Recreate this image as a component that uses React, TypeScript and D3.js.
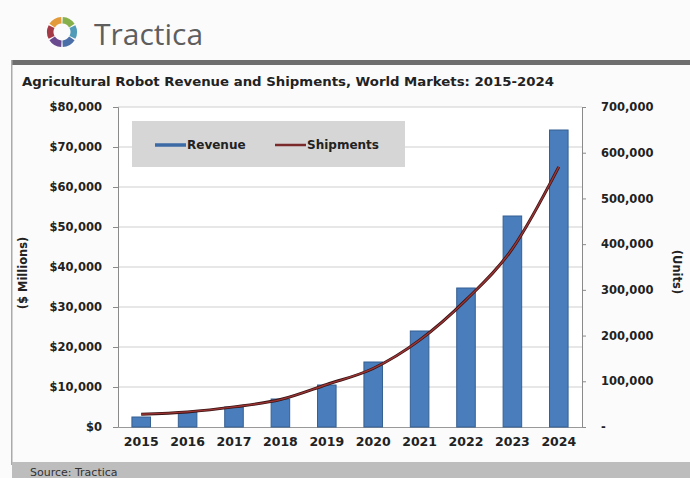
import { useEffect, useRef } from 'react';
import { arc, axisBottom, axisLeft, axisRight, curveMonotoneX, format, line, scaleBand, scaleLinear, select } from 'd3';

const years = ['2015', '2016', '2017', '2018', '2019', '2020', '2021', '2022', '2023', '2024'];
const revenue = [2500, 3750, 5000, 7000, 10500, 16250, 24000, 34750, 52750, 74250];
const shipments = [28000, 33000, 44000, 60000, 93000, 128000, 190000, 278000, 390000, 569000];
const revenueTicks = [0, 10000, 20000, 30000, 40000, 50000, 60000, 70000, 80000];
const unitTicks = [0, 100000, 200000, 300000, 400000, 500000, 600000, 700000];
const logoColors = ['#86b04a', '#4f9bb8', '#4a6fa8', '#6a4a8e', '#a33a46', '#e39a3a'];

const W = 690;
const H = 478;
const plot = { left: 118, right: 582, top: 107, bottom: 427 };
const font = '"DejaVu Sans", Verdana, sans-serif';

export default function App() {
  const svgRef = useRef<SVGSVGElement | null>(null);

  useEffect(() => {
    const svgEl = svgRef.current;
    if (!svgEl) return;
    const svg = select(svgEl);
    svg.selectAll('*').remove();

    // header
    svg.append('rect').attr('width', W).attr('height', H).attr('fill', '#fbfbfb');
    svg.append('rect').attr('x', 12).attr('y', 60).attr('width', W - 12).attr('height', 5).attr('fill', '#6e6e6e');
    svg.append('rect').attr('x', 11).attr('y', 60).attr('width', 1.5).attr('height', 405).attr('fill', '#aaa');

    const logo = svg.append('g').attr('transform', 'translate(62,32)');
    const seg = arc<number>()
      .innerRadius(8.5)
      .outerRadius(15)
      .startAngle((d) => (d * Math.PI * 2) / logoColors.length + 0.05)
      .endAngle((d) => ((d + 1) * Math.PI * 2) / logoColors.length - 0.05);
    logo
      .selectAll('path')
      .data(logoColors.map((_, i) => i))
      .join('path')
      .attr('d', seg)
      .attr('fill', (i) => logoColors[i]);

    svg.append('text')
      .attr('x', 94).attr('y', 45)
      .attr('font-family', '"Open Sans", "DejaVu Sans", sans-serif')
      .attr('font-size', 30)
      .attr('fill', '#5e5e5e')
      .text('Tractica');

    svg.append('text')
      .attr('x', 22).attr('y', 86)
      .attr('font-family', font)
      .attr('font-weight', 'bold')
      .attr('font-size', 12)
      .attr('fill', '#222')
      .attr('textLength', 532)
      .attr('lengthAdjust', 'spacingAndGlyphs')
      .text('Agricultural Robot Revenue and Shipments, World Markets: 2015-2024');

    // scales
    const x = scaleBand<string>().domain(years).range([plot.left, plot.right]).paddingInner(0.6).paddingOuter(0.3);
    const yL = scaleLinear().domain([0, 80000]).range([plot.bottom, plot.top]);
    const yR = scaleLinear().domain([0, 700000]).range([plot.bottom, plot.top]);

    svg.append('rect')
      .attr('x', plot.left).attr('y', plot.top)
      .attr('width', plot.right - plot.left).attr('height', plot.bottom - plot.top)
      .attr('fill', '#ffffff');

    svg.append('g')
      .selectAll('line')
      .data(revenueTicks.slice(1))
      .join('line')
      .attr('x1', plot.left).attr('x2', plot.right)
      .attr('y1', (d) => yL(d)).attr('y2', (d) => yL(d))
      .attr('stroke', '#cfcfcf').attr('stroke-width', 1);

    const styleAxis = (g: any) => {
      g.select('.domain').attr('stroke', '#8a8a8a');
      g.selectAll('.tick line').attr('stroke', '#8a8a8a');
      g.selectAll('.tick text')
        .attr('font-family', font)
        .attr('font-weight', 'bold')
        .attr('font-size', 11.5)
        .attr('fill', '#222');
    };

    svg.append('g')
      .attr('transform', `translate(${plot.left},0)`)
      .call(axisLeft(yL).tickValues(revenueTicks).tickSize(5).tickPadding(11).tickFormat((d) => `$${format(',')(d as number)}`))
      .call(styleAxis);

    svg.append('g')
      .attr('transform', `translate(${plot.right},0)`)
      .call(axisRight(yR).tickValues(unitTicks).tickSize(4).tickPadding(15).tickFormat((d) => (d === 0 ? '-' : format(',')(d as number))))
      .call(styleAxis);

    svg.append('g')
      .attr('transform', `translate(0,${plot.bottom})`)
      .call(axisBottom(x).tickSize(0).tickPadding(10))
      .call(styleAxis)
      .call((g: any) => {
        g.select('.domain').attr('stroke', '#999');
        g.selectAll('.tick text').attr('font-size', 12.5);
      });

    // bars
    svg.append('g')
      .selectAll('rect')
      .data(years)
      .join('rect')
      .attr('x', (d) => x(d) ?? 0)
      .attr('y', (_, i) => yL(revenue[i]))
      .attr('width', x.bandwidth())
      .attr('height', (_, i) => plot.bottom - yL(revenue[i]))
      .attr('fill', '#4a7dbb')
      .attr('stroke', '#355f91')
      .attr('stroke-width', 1);

    // shipments line
    const ln = line<number>()
      .x((_, i) => (x(years[i]) ?? 0) + x.bandwidth() / 2)
      .y((d) => yR(d))
      .curve(curveMonotoneX);
    svg.append('path').attr('d', ln(shipments)).attr('fill', 'none').attr('stroke', '#3a1414').attr('stroke-width', 3);
    svg.append('path').attr('d', ln(shipments)).attr('fill', 'none').attr('stroke', '#9c3434').attr('stroke-width', 1.4);

    // legend
    const lg = svg.append('g');
    lg.append('rect').attr('x', 132).attr('y', 121).attr('width', 273).attr('height', 46).attr('fill', '#d6d6d6');
    lg.append('line').attr('x1', 155).attr('x2', 186).attr('y1', 145).attr('y2', 145).attr('stroke', '#3b6aa5').attr('stroke-width', 3.5);
    lg.append('text').attr('x', 187).attr('y', 149).attr('font-family', font).attr('font-weight', 'bold').attr('font-size', 12).attr('fill', '#222').text('Revenue');
    lg.append('line').attr('x1', 275).attr('x2', 306).attr('y1', 145).attr('y2', 145).attr('stroke', '#7a2a2a').attr('stroke-width', 2.5);
    lg.append('text').attr('x', 307).attr('y', 149).attr('font-family', font).attr('font-weight', 'bold').attr('font-size', 12).attr('fill', '#222').text('Shipments');

    // axis titles
    svg.append('text')
      .attr('transform', 'translate(27,273) rotate(-90)')
      .attr('text-anchor', 'middle')
      .attr('font-family', font).attr('font-weight', 'bold').attr('font-size', 11.5).attr('fill', '#222')
      .text('($ Millions)');
    svg.append('text')
      .attr('transform', 'translate(673,272) rotate(90)')
      .attr('text-anchor', 'middle')
      .attr('font-family', font).attr('font-weight', 'bold').attr('font-size', 11.5).attr('fill', '#222')
      .text('(Units)');

    // footer
    svg.append('rect').attr('x', 12).attr('y', 462).attr('width', W - 12).attr('height', 16).attr('fill', '#bdbdbd');
    svg.append('text')
      .attr('x', 30).attr('y', 476)
      .attr('font-family', font).attr('font-size', 11).attr('fill', '#333')
      .text('Source: Tractica');
  }, []);

  return (
    <div style={{ position: 'absolute', left: 0, top: 0 }}>
      <svg ref={svgRef} width={W} height={H} style={{ display: 'block' }} />
    </div>
  );
}
